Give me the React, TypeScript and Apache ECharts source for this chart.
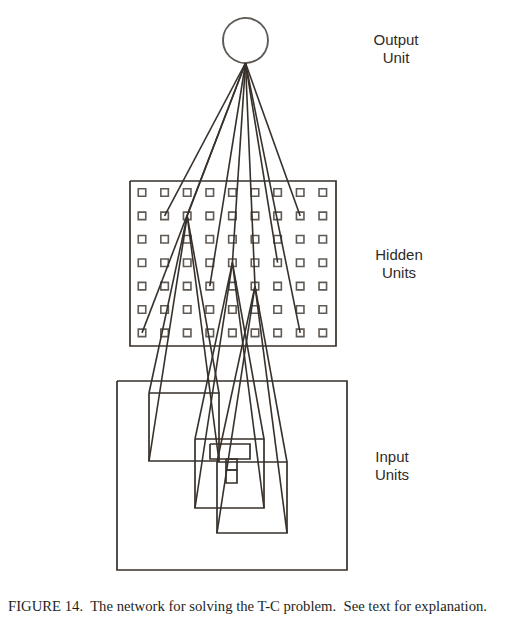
import React, { useEffect, useRef } from "react";
import * as echarts from "echarts";

// hidden layer is a 9 x 7 sheet of units
const hiddenColumns = [0, 1, 2, 3, 4, 5, 6, 7, 8];
const hiddenRows = [0, 1, 2, 3, 4, 5, 6];

// [row, col] of the hidden units wired to the output unit
const outputLinks = [
  [1, 1], [1, 2], [1, 7], [3, 4], [3, 6], [4, 3], [4, 5], [6, 0], [6, 7],
];

// hidden units that show their receptive field, and that field on the input plane [x0, y0, x1, y1]
const fieldHubs = [[1, 2], [3, 4], [4, 5]];
const fieldBoxes = [
  [149, 393, 219, 461],
  [195, 439, 264, 508],
  [217, 462, 287, 533],
];

// the "T" drawn on the input plane
const tPattern = [
  [210, 444, 250, 459],
  [226, 459, 237, 470],
  [226, 470, 237, 483],
];

const layerLabels = [["Output", "Unit"], ["Hidden", "Units"], ["Input", "Units"]];
const caption =
  "FIGURE 14.\u00a0 The network for solving the T-C problem.\u00a0 See text for explanation.";

// layout
const W = 507;
const H = 638;
const INK = "#38312b";
const OUT = { x: 245.5, y: 40.5, r: 22.5 };
const HID = { x: 142, y: 192.5, dx: 22.6, dy: 23.4 };
const hiddenFrame = [130, 181, 336, 346];
const inputFrame = [117, 381, 347, 570];
const labelPos = [
  [396, 39],
  [399, 254],
  [392, 456],
];

const unitXY = (r: number, c: number) => [HID.x + c * HID.dx, HID.y + r * HID.dy];
const box = (b: number[]) => [
  [b[0], b[1]],
  [b[2], b[1]],
  [b[2], b[3]],
  [b[0], b[3]],
  [b[0], b[1]],
];

const App = () => {
  const chartRef = useRef<HTMLDivElement>(null);

  useEffect(() => {
    const dom = chartRef.current;
    if (!dom) return;
    const chart = echarts.init(dom, null, { renderer: "svg" });

    const hiddenUnits: number[][] = [];
    hiddenRows.forEach((r) => hiddenColumns.forEach((c) => hiddenUnits.push(unitXY(r, c))));

    const outBottom = [OUT.x, OUT.y + OUT.r];
    const fanIn = outputLinks.map(([r, c]) => ({ coords: [outBottom, unitXY(r, c)] }));

    const pyramids: any[] = [];
    fieldHubs.forEach(([r, c], i) => {
      const hub = unitXY(r, c);
      box(fieldBoxes[i]).slice(0, 4).forEach((corner) => pyramids.push({ coords: [hub, corner] }));
    });

    const frames = [hiddenFrame, inputFrame, ...fieldBoxes, ...tPattern].map((b) => ({
      coords: box(b),
    }));

    const labels: any[] = [];
    layerLabels.forEach((lines, i) => {
      lines.forEach((t, j) =>
        labels.push({
          type: "text",
          x: labelPos[i][0],
          y: labelPos[i][1] + j * 18,
          style: {
            text: t,
            fill: "#2e2a27",
            font: '15px "Liberation Sans", Arial, sans-serif',
            textAlign: "center",
            textVerticalAlign: "middle",
          },
        })
      );
    });
    labels.push({
      type: "text",
      x: 8,
      y: 606,
      style: {
        text: caption,
        fill: "#231f1c",
        font: '14.7px "Liberation Serif", "Times New Roman", serif',
        textAlign: "left",
        textVerticalAlign: "middle",
      },
    });

    const option: echarts.EChartsOption = {
      animation: false,
      backgroundColor: "#ffffff",
      grid: { left: 0, right: 0, top: 0, bottom: 0 },
      xAxis: { type: "value", min: 0, max: W, show: false },
      yAxis: { type: "value", min: 0, max: H, inverse: true, show: false },
      graphic: labels,
      series: [
        {
          type: "lines",
          coordinateSystem: "cartesian2d",
          polyline: true,
          data: frames,
          lineStyle: { color: INK, width: 1.7, opacity: 1 },
          silent: true,
        },
        {
          type: "lines",
          coordinateSystem: "cartesian2d",
          data: [...fanIn, ...pyramids],
          lineStyle: { color: INK, width: 1.6, opacity: 1 },
          silent: true,
        },
        {
          type: "scatter",
          data: hiddenUnits,
          symbol: "rect",
          symbolSize: 7.5,
          itemStyle: { color: "rgba(0,0,0,0)", borderColor: INK, borderWidth: 1.6 },
          silent: true,
        },
        {
          type: "scatter",
          data: [[OUT.x, OUT.y]],
          symbol: "circle",
          symbolSize: OUT.r * 2,
          itemStyle: { color: "rgba(0,0,0,0)", borderColor: INK, borderWidth: 1.9 },
          silent: true,
        },
      ],
    };

    chart.setOption(option);
    return () => chart.dispose();
  }, []);

  return (
    <div
      ref={chartRef}
      style={{ position: "fixed", left: 0, top: 0, width: W, height: H, background: "#fff" }}
    />
  );
};

export default App;
